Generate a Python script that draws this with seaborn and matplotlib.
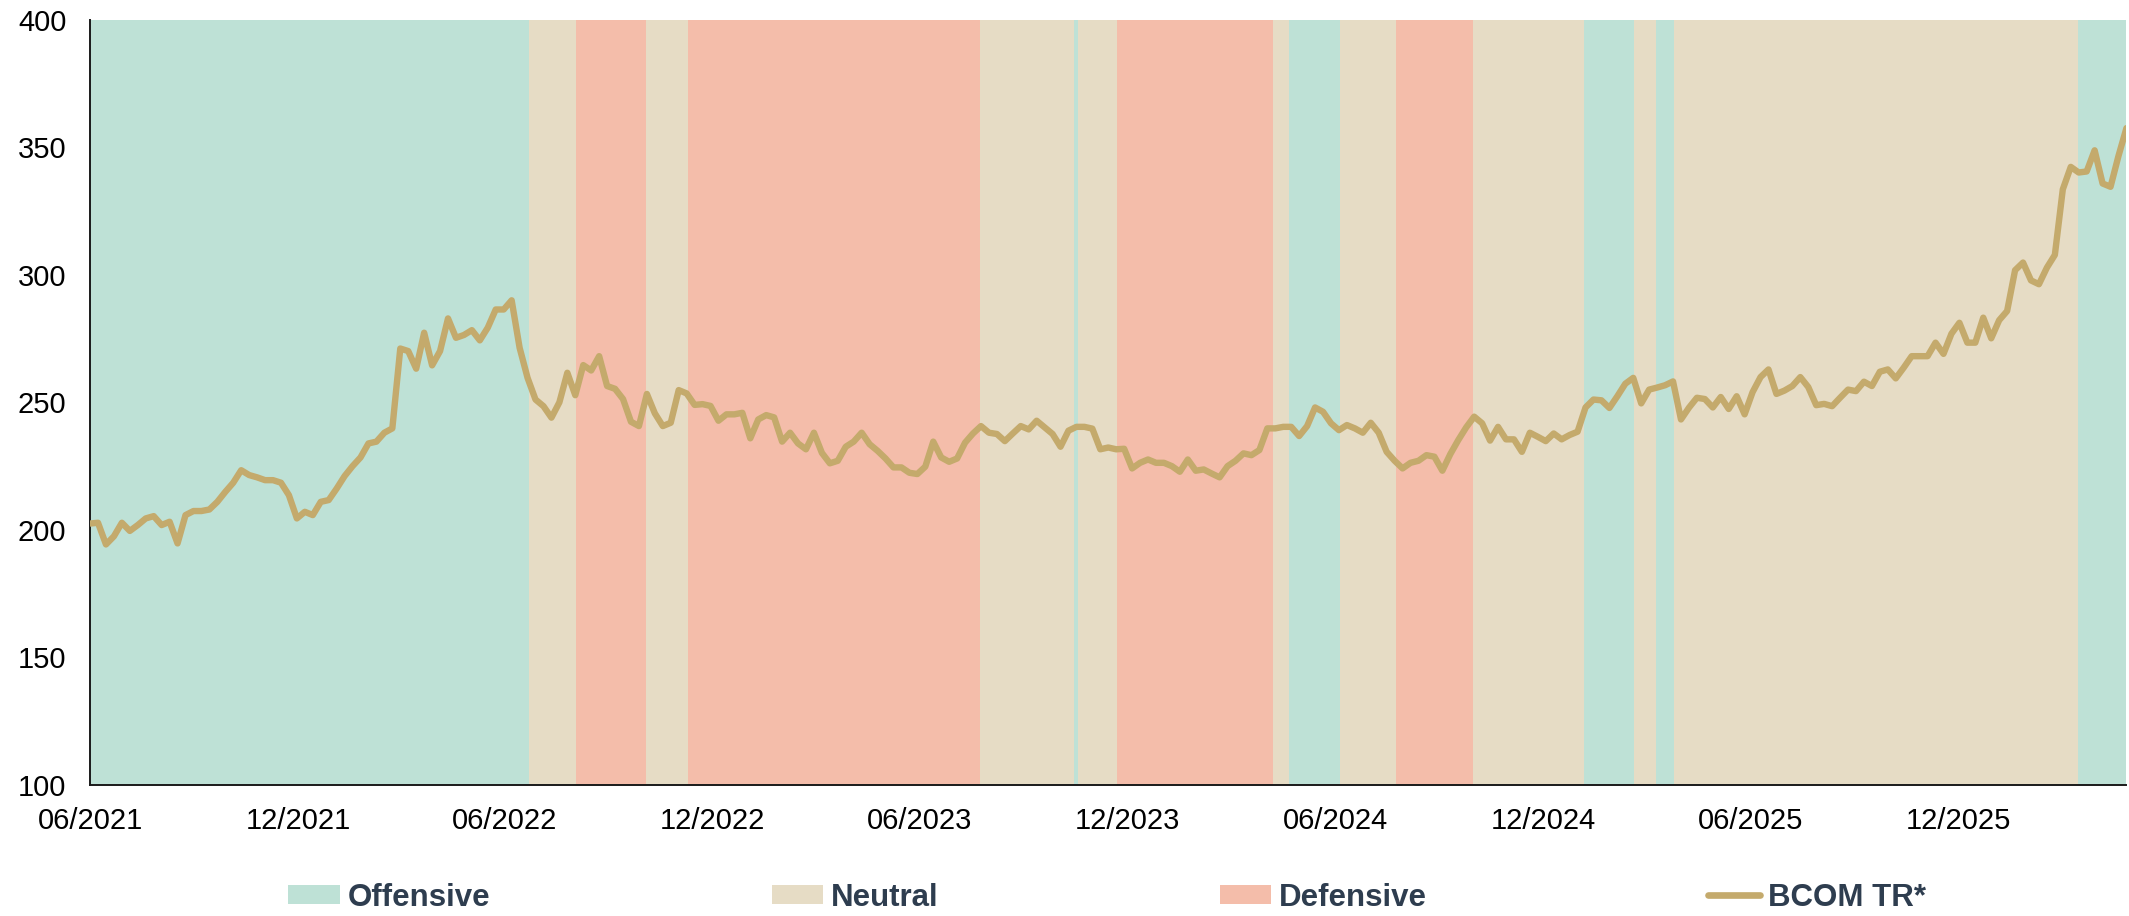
import matplotlib
matplotlib.use("Agg")
import matplotlib.pyplot as plt
import matplotlib.dates as mdates
from matplotlib.patches import Patch
from matplotlib.lines import Line2D
import numpy as np
import pandas as pd
import seaborn as sns

# Weekly BCOM total-return index levels
bcom_values = [
    202.5, 202.8, 194.3, 197.5, 202.8, 199.6, 201.9, 204.5, 205.4, 201.9,
    203.2, 194.7, 205.8, 207.4, 207.4, 208.0, 211.0, 214.9, 218.5, 223.4,
    221.5, 220.6, 219.5, 219.5, 218.5, 213.6, 204.5, 207.1, 205.8, 211.0,
    211.7, 216.2, 221.1, 225.0, 228.4, 233.9, 234.6, 238.1, 239.8, 271.1,
    270.1, 263.2, 277.3, 264.5, 270.1, 282.9, 275.3, 276.4, 278.3, 274.3,
    279.3, 286.4, 286.4, 290.0, 271.4, 259.6, 251.1, 248.5, 244.0, 250.0,
    261.6, 252.8, 264.6, 262.5, 268.1, 256.4, 255.3, 251.3, 242.4, 240.7,
    253.3, 245.7, 240.7, 242.0, 254.8, 253.5, 249.0, 249.3, 248.6, 242.8,
    245.3, 245.3, 245.9, 235.9, 243.3, 245.0, 244.1, 234.6, 238.1, 233.9,
    231.6, 238.1, 230.2, 226.1, 227.1, 232.6, 234.6, 238.1, 233.6, 231.0,
    228.0, 224.5, 224.5, 222.4, 221.9, 224.8, 234.6, 228.4, 226.7, 228.0,
    234.2, 237.8, 240.7, 238.1, 237.6, 234.8, 237.8, 240.7, 239.4, 242.8,
    240.2, 237.6, 232.6, 238.9, 240.4, 240.4, 239.7, 231.6, 232.3, 231.6,
    231.8, 224.1, 226.3, 227.6, 226.3, 226.3, 225.0, 222.8, 227.6, 223.2,
    223.7, 222.1, 220.6, 225.0, 227.1, 230.0, 229.3, 231.3, 239.8, 239.8,
    240.4, 240.4, 236.8, 240.7, 248.0, 246.3, 241.8, 239.1, 241.1, 239.8,
    238.1, 242.0, 238.1, 230.6, 227.1, 224.1, 226.3, 227.1, 229.3, 228.7,
    223.2, 229.7, 235.2, 240.2, 244.4, 241.8, 235.0, 240.4, 235.5, 235.5,
    230.6, 238.1, 236.5, 234.8, 237.8, 235.5, 237.2, 238.5, 248.0, 251.1,
    250.8, 247.8, 252.4, 257.3, 259.6, 249.6, 255.0, 255.8, 256.7, 258.2,
    243.3, 247.9, 251.8, 251.3, 248.0, 252.1, 247.4, 252.4, 245.3, 254.0,
    259.9, 262.9, 253.3, 254.6, 256.4, 259.9, 256.0, 248.9, 249.4, 248.5,
    251.8, 255.0, 254.4, 258.1, 256.4, 262.0, 262.9, 259.4, 263.6, 268.1,
    268.1, 268.1, 273.4, 269.0, 276.9, 281.2, 273.4, 273.4, 283.2, 275.1,
    282.2, 285.8, 301.8, 304.8, 297.8, 296.3, 302.8, 307.8, 333.5, 342.3,
    340.1, 340.5, 348.8, 335.8, 334.5, 346.6, 357.5,
]
first_date = "2021-06-01"

# Market regime periods (start dates; each runs until the next start)
regime_starts = [
    "2021-06-01", "2022-06-22", "2022-08-03", "2022-10-03", "2022-11-09",
    "2023-07-24", "2023-10-15", "2023-10-18", "2023-11-22", "2024-04-07",
    "2024-04-21", "2024-06-05", "2024-07-24", "2024-09-30", "2025-01-06",
    "2025-02-19", "2025-03-10", "2025-03-26", "2026-03-16",
]
regime_labels = [
    "Offensive", "Neutral", "Defensive", "Neutral", "Defensive",
    "Neutral", "Offensive", "Neutral", "Defensive", "Neutral",
    "Offensive", "Neutral", "Defensive", "Neutral", "Offensive",
    "Neutral", "Offensive", "Neutral", "Offensive",
]

regime_order = ["Offensive", "Neutral", "Defensive"]
regime_colors = {"Offensive": "#BEE1D6", "Neutral": "#E6DCC5", "Defensive": "#F4BDAA"}
line_color = "#C4AA6C"
legend_text_color = "#2E3D4F"
series_name = "BCOM TR*"

sns.set_theme(style="white")
plt.rcParams["font.family"] = ["Liberation Sans", "DejaVu Sans"]

dates = pd.date_range(first_date, periods=len(bcom_values), freq="7D")
df = pd.DataFrame({"date": dates, "value": bcom_values})

fig = plt.figure(figsize=(21.29, 9.16), dpi=100)
ax = fig.add_axes([0.0423, 0.143, 0.9565, 0.8355])

starts = pd.to_datetime(regime_starts)
ends = list(starts[1:]) + [dates[-1]]
for s, e, lab in zip(starts, ends, regime_labels):
    ax.axvspan(s, e, color=regime_colors[lab], lw=0, zorder=0)

sns.lineplot(data=df, x="date", y="value", color=line_color, lw=4.6,
             ax=ax, zorder=3, legend=False)

ax.set_xlim(dates[0], dates[-1])
ax.set_ylim(100, 400)
ax.set_yticks(np.arange(100, 401, 50))
ax.xaxis.set_major_locator(mdates.MonthLocator(bymonth=[6, 12]))
ax.xaxis.set_major_formatter(mdates.DateFormatter("%m/%Y"))
ax.set_xlabel("")
ax.set_ylabel("")

for side in ["top", "right"]:
    ax.spines[side].set_visible(False)
for side in ["left", "bottom"]:
    ax.spines[side].set_color("#1a1a1a")
    ax.spines[side].set_linewidth(1.4)
ax.tick_params(axis="both", which="major", direction="out", length=7,
               width=1.3, color="#1a1a1a", labelsize=21, labelcolor="#000000")
ax.tick_params(axis="x", pad=9)
ax.tick_params(axis="y", pad=10)

handles = [Patch(facecolor=regime_colors[r], edgecolor="none", label=r) for r in regime_order]
handles.append(Line2D([0], [0], color=line_color, lw=4.8, solid_capstyle="round", label=series_name))
leg = fig.legend(handles=handles, loc="center", bbox_to_anchor=(0.52, 0.02), ncol=4,
                 frameon=False, prop={"size": 22.5, "weight": "bold"},
                 handlelength=1.65, handleheight=0.55, handletextpad=0.25,
                 columnspacing=9.0, borderaxespad=0, borderpad=0)
for t in leg.get_texts():
    t.set_color(legend_text_color)

fig.savefig("out.png", dpi=100)
